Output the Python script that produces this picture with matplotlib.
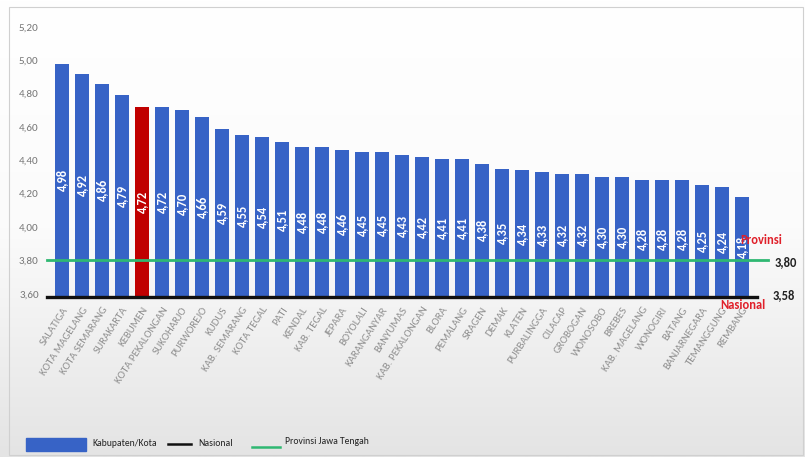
import numpy as np
import matplotlib
matplotlib.use("Agg")
import matplotlib.pyplot as plt
from matplotlib.patches import Rectangle
from matplotlib.lines import Line2D
from matplotlib.colors import LinearSegmentedColormap
from matplotlib import font_manager

regions = ["SALATIGA", "KOTA MAGELANG", "KOTA SEMARANG", "SURAKARTA", "KEBUMEN",
           "KOTA PEKALONGAN", "SUKOHARJO", "PURWOREJO", "KUDUS", "KAB. SEMARANG",
           "KOTA TEGAL", "PATI", "KENDAL", "KAB. TEGAL", "JEPARA", "BOYOLALI",
           "KARANGANYAR", "BANYUMAS", "KAB. PEKALONGAN", "BLORA", "PEMALANG",
           "SRAGEN", "DEMAK", "KLATEN", "PURBALINGGA", "CILACAP", "GROBOGAN",
           "WONOSOBO", "BREBES", "KAB. MAGELANG", "WONOGIRI", "BATANG",
           "BANJARNEGARA", "TEMANGGUNG", "REMBANG"]
values = [4.98, 4.92, 4.86, 4.79, 4.72, 4.72, 4.70, 4.66, 4.59, 4.55, 4.54, 4.51,
          4.48, 4.48, 4.46, 4.45, 4.45, 4.43, 4.42, 4.41, 4.41, 4.38, 4.35, 4.34,
          4.33, 4.32, 4.32, 4.30, 4.30, 4.28, 4.28, 4.28, 4.25, 4.24, 4.18]
highlight = "KEBUMEN"
nasional = 3.58
provinsi = 3.80
yticks = [3.60, 3.80, 4.00, 4.20, 4.40, 4.60, 4.80, 5.00, 5.20]

# pick a narrow, Calibri-like face when one is available
installed = {f.name for f in font_manager.fontManager.ttflist}
candidates = ["Carlito", "Liberation Sans Narrow", "Roboto Condensed",
              "Open Sans Condensed", "PT Sans Narrow", "Archivo Narrow",
              "Encode Sans Condensed", "Fira Sans Condensed", "Lato"]
chosen = next((c for c in candidates if c in installed), "DejaVu Sans")
FONT = [chosen, "DejaVu Sans"]
narrow = chosen not in ("Lato", "DejaVu Sans")
SCALE = 1.0 if narrow else 0.82

BLUE = "#3763c6"
RED = "#c00000"
GREEN = "#2fb872"

def comma(v, nd=2):
    return f"{v:.{nd}f}".replace(".", ",")

fig = plt.figure(figsize=(8.05, 4.57), dpi=100)

# soft vertical gradient behind everything
bg = fig.add_axes([0, 0, 1, 1], zorder=-10)
grad = np.linspace(0, 1, 256).reshape(-1, 1)
cmap = LinearSegmentedColormap.from_list("bg", ["#ffffff", "#fbfbfb", "#e4e4e4"])
bg.imshow(grad, aspect="auto", cmap=cmap, extent=[0, 1, 0, 1], origin="upper")
bg.set_axis_off()
bg.add_patch(Rectangle((0.011, 0.004), 0.986, 0.98, transform=bg.transAxes,
                       fill=False, edgecolor="#d0d0d0", linewidth=0.8))

ax = fig.add_axes([0.0584, 0.350, 0.898, 0.613])
ax.patch.set_alpha(0)

x = np.arange(len(regions))
colors = [RED if r == highlight else BLUE for r in regions]
ax.bar(x, values, width=0.7, color=colors, bottom=0, zorder=2)

ylo, yhi = 3.58, 5.26
ax.set_ylim(ylo, yhi)
ax.set_xlim(-0.75, 35.4)

# value labels inside bars
for xi, v in zip(x, values):
    ax.text(xi, (v + ylo) / 2, comma(v), rotation=90, ha="center", va="center",
            color="white", fontsize=9 * SCALE, fontweight="bold", family=FONT,
            zorder=4)

# reference lines
ax.plot([-0.75, 35.3], [provinsi, provinsi], color=GREEN, lw=2, zorder=3,
        clip_on=False)
ax.plot([-0.75, 34.75], [nasional, nasional], color="#111111", lw=2.4, zorder=5,
        clip_on=False)

ax.text(35.65, provinsi - 0.01, comma(provinsi), ha="left", va="center",
        fontsize=9 * SCALE, fontweight="bold", color="#222222", family=FONT)
ax.text(35.55, nasional + 0.01, comma(nasional), ha="left", va="center",
        fontsize=9 * SCALE, fontweight="bold", color="#222222", family=FONT)
ax.text(33.9, provinsi + 0.12, "Provinsi", ha="left", va="center",
        fontsize=9 * SCALE, fontweight="bold", color="#e0202a", family=FONT,
        zorder=6)
ax.text(32.9, nasional - 0.05, "Nasional", ha="left", va="center",
        fontsize=9 * SCALE, fontweight="bold", color="#e0202a", family=FONT,
        zorder=6, clip_on=False)

ax.set_yticks(yticks)
ax.set_yticklabels([comma(t) for t in yticks], fontsize=8 * SCALE,
                   color="#777777", family=FONT)
ax.tick_params(axis="y", length=0, pad=6)
ax.set_xticks(x)
ax.set_xticklabels(regions, rotation=57, ha="right", rotation_mode="anchor",
                   fontsize=7.8 * SCALE, color="#8f8f8f", family=FONT)
ax.tick_params(axis="x", length=0, pad=6)
for s in ax.spines.values():
    s.set_visible(False)

# legend row along the bottom
LEG = 6.9 * SCALE
bg.add_patch(Rectangle((26 / 805, 1 - 451 / 457), 60 / 805, 13 / 457,
                       transform=bg.transAxes, color=BLUE))
bg.text(92 / 805, 1 - 444 / 457, "Kabupaten/Kota", transform=bg.transAxes,
        fontsize=LEG, va="center", ha="left", color="#222222", family=FONT)
bg.add_line(Line2D([168 / 805, 191 / 805], [1 - 444 / 457] * 2,
                   transform=bg.transAxes, color="#111111", lw=1.8))
bg.text(198 / 805, 1 - 444 / 457, "Nasional", transform=bg.transAxes,
        fontsize=LEG, va="center", ha="left", color="#222222", family=FONT)
bg.add_line(Line2D([252 / 805, 280 / 805], [1 - 447 / 457] * 2,
                   transform=bg.transAxes, color=GREEN, lw=1.8))
bg.text(285 / 805, 1 - 442 / 457, "Provinsi Jawa Tengah", transform=bg.transAxes,
        fontsize=LEG, va="center", ha="left", color="#222222", family=FONT)
bg.set_xlim(0, 1)
bg.set_ylim(0, 1)

fig.savefig("out.png", dpi=100)
